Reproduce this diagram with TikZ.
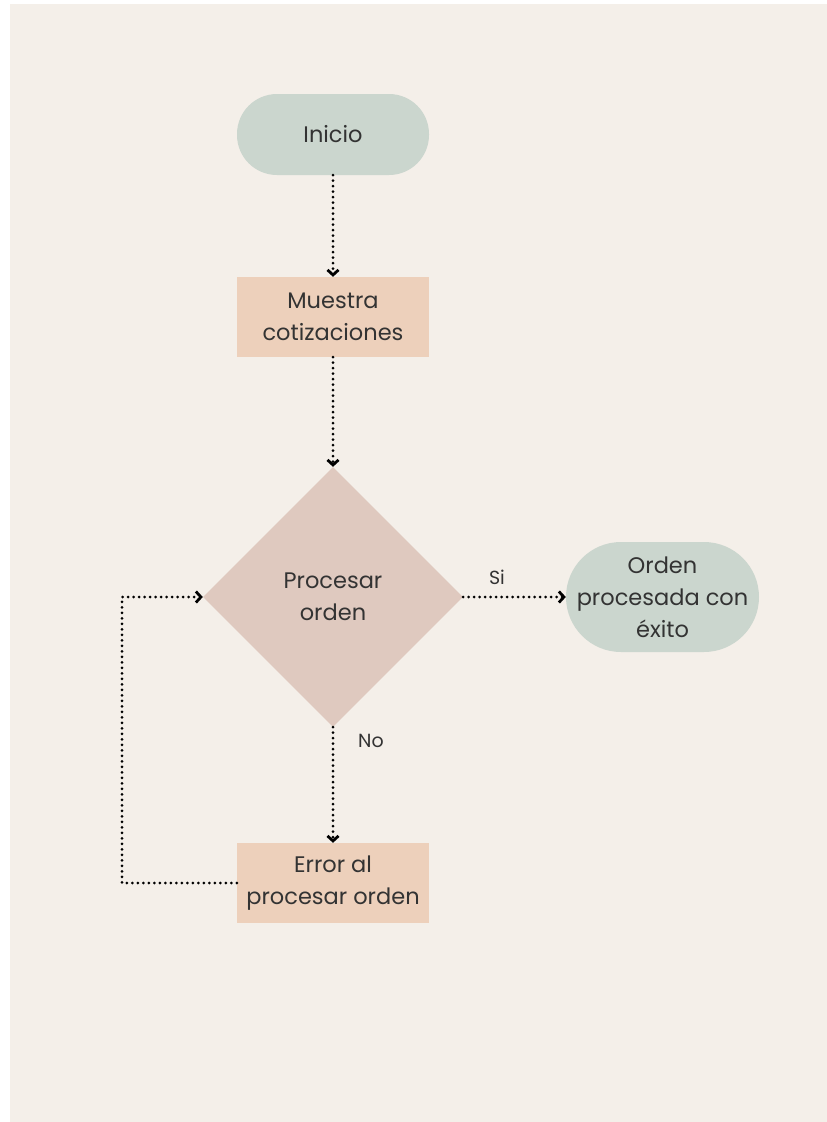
\documentclass[tikz,border=0pt]{standalone}
\usepackage{fontspec}
\setmainfont{Poppins}
\usetikzlibrary{shapes.geometric,arrows.meta}
\definecolor{paper}{HTML}{F4EFE9}
\definecolor{sage}{HTML}{CBD6CE}
\definecolor{peach}{HTML}{EDD0BB}
\definecolor{rose}{HTML}{DFC9BF}
\definecolor{ink}{HTML}{333333}
\tikzset{
  base/.style={text=ink, align=center, font=\fontsize{22.5}{32}\selectfont, inner sep=0pt},
  terminal/.style={base, fill=sage, rectangle, rounded corners=40pt, minimum width=192pt, minimum height=81pt},
  process/.style={base, fill=peach, rectangle, minimum width=192pt, minimum height=80pt},
  decision/.style={base, fill=rose, diamond, minimum width=260pt, minimum height=260pt},
  flow/.style={draw=black, line width=3pt, line cap=round, dash pattern=on 0pt off 5.5pt,
    -{Straight Barb[length=5pt,width=11pt,line width=2.8pt]}},
  edgelabel/.style={text=ink, font=\fontsize{19}{22}\selectfont}
}
\begin{document}
\begin{tikzpicture}[x=1pt,y=-1pt]
  \useasboundingbox (0,0) rectangle (827,1122);
  \fill[white] (0,0) rectangle (827,1122);
  \fill[paper] (10,4) rectangle (827,1122);

  \node[terminal] (inicio) at (333,134.5) {Inicio};
  \node[process] (muestra) at (333,317) {Muestra\\cotizaciones};
  \node[decision] (proc) at (333,597) {Procesar\\orden};
  \node[terminal, rounded corners=55pt, minimum width=193pt, minimum height=110pt] (exito) at (662.5,597) {Orden\\procesada con\\éxito};
  \node[process] (error) at (333,883) {Error al\\procesar orden};

  \coordinate (loopB) at (122,883);
  \coordinate (loopT) at (122,597);

  \draw[flow] (inicio.south) -- (muestra.north);
  \draw[flow] (muestra.south) -- (proc.north);
  \draw[flow] (proc.east) -- (exito.west);
  \draw[flow] (proc.south) -- (error.north);
  \draw[flow] (error.west) -- (loopB) -- (loopT) -- (proc.west);

  \node[edgelabel] (si) at (497,577) {Si};
  \node[edgelabel] (no) at (371,741) {No};
\end{tikzpicture}
\end{document}
